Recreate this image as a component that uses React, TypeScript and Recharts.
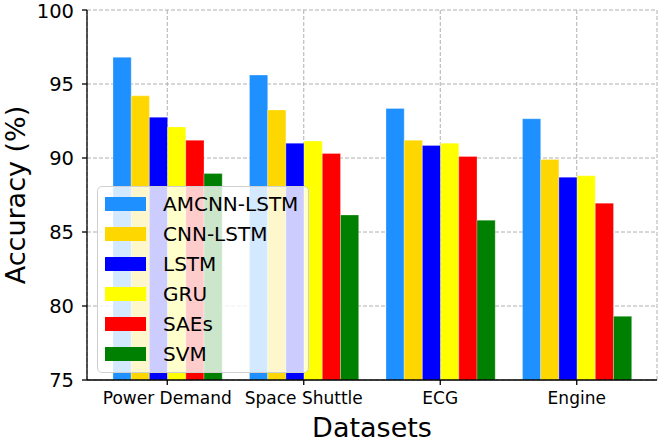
import { BarChart, Bar, XAxis, YAxis, CartesianGrid, Label } from "recharts";

// datasets on the x axis
const datasets = ["Power Demand", "Space Shuttle", "ECG", "Engine"];

// accuracy (%) per model, one value per dataset
const amcnnLstm = [96.8, 95.6, 93.35, 92.65];
const cnnLstm = [94.2, 93.25, 91.2, 89.9];
const lstm = [92.75, 91.0, 90.85, 88.7];
const gru = [92.1, 91.15, 91.0, 88.8];
const saes = [91.2, 90.3, 90.1, 86.95];
const svm = [88.95, 86.15, 85.8, 79.3];

const yTicks = [75, 80, 85, 90, 95, 100];

const models = [
  { key: "AMCNN-LSTM", values: amcnnLstm, color: "#1E90FF" },
  { key: "CNN-LSTM", values: cnnLstm, color: "#FFD700" },
  { key: "LSTM", values: lstm, color: "#0000FF" },
  { key: "GRU", values: gru, color: "#FFFF00" },
  { key: "SAEs", values: saes, color: "#FF0000" },
  { key: "SVM", values: svm, color: "#008000" },
];

const data = datasets.map((name, i) => {
  const row: Record<string, string | number> = { name };
  models.forEach((m) => {
    row[m.key] = m.values[i];
  });
  return row;
});

const font = "DejaVu Sans, sans-serif";

// legend drawn as an overlay (semi-transparent box over the bars, like matplotlib)
function LegendBox() {
  return (
    <div
      style={{
        position: "absolute",
        left: 97,
        top: 186,
        width: 212,
        height: 187,
        boxSizing: "border-box",
        background: "rgba(255,255,255,0.8)",
        border: "1px solid #d0d0d0",
        borderRadius: 5,
        paddingTop: 2,
        fontFamily: font,
      }}
    >
      {models.map((m) => (
        <div key={m.key} style={{ display: "flex", alignItems: "center", height: 30 }}>
          <div style={{ width: 41, height: 14, background: m.color, marginLeft: 7 }} />
          <span style={{ marginLeft: 17, fontSize: 20, color: "#000", lineHeight: "20px" }}>{m.key}</span>
        </div>
      ))}
    </div>
  );
}

export default function App() {
  return (
    <div style={{ position: "absolute", left: 0, top: 0, width: 665, height: 445, background: "#fff" }}>
      <BarChart
        width={665}
        height={445}
        data={data}
        margin={{ top: 10, right: 8, bottom: 0, left: 0 }}
        barGap={0}
        barSize={18.2}
      >
        {models.map((m) => (
          <Bar
            key={m.key}
            dataKey={m.key}
            fill={m.color}
            stroke="#ffffff"
            strokeOpacity={0.35}
            strokeWidth={0.8}
            isAnimationActive={false}
          />
        ))}
        <CartesianGrid stroke="#b0b0b0" strokeDasharray="4 2" strokeWidth={1} />
        <XAxis
          dataKey="name"
          height={65}
          padding={{ left: 12, right: 12 }}
          tickSize={5}
          tickMargin={7}
          stroke="#000"
          strokeWidth={1.3}
          tick={{ fill: "#000", fontSize: 17, fontFamily: font }}
        >
          <Label
            value="Datasets"
            position="insideBottom"
            offset={8}
            style={{ fontSize: 27, fontFamily: font, fill: "#000" }}
          />
        </XAxis>
        <XAxis xAxisId="top" orientation="top" height={0} tick={false} tickLine={false} stroke="#000" strokeWidth={1.3} />
        <YAxis
          width={87}
          domain={[75, 100]}
          ticks={yTicks}
          allowDataOverflow
          tickSize={5}
          tickMargin={8}
          stroke="#000"
          strokeWidth={1.3}
          tick={{ fill: "#000", fontSize: 19.5, fontFamily: font }}
        >
          <Label
            value="Accuracy (%)"
            angle={-90}
            position="center"
            dx={-28}
            style={{ fontSize: 27, fontFamily: font, fill: "#000", textAnchor: "middle" }}
          />
        </YAxis>
        <YAxis yAxisId="right" orientation="right" width={0} tick={false} tickLine={false} stroke="#000" strokeWidth={1.3} />
      </BarChart>
      <LegendBox />
    </div>
  );
}
